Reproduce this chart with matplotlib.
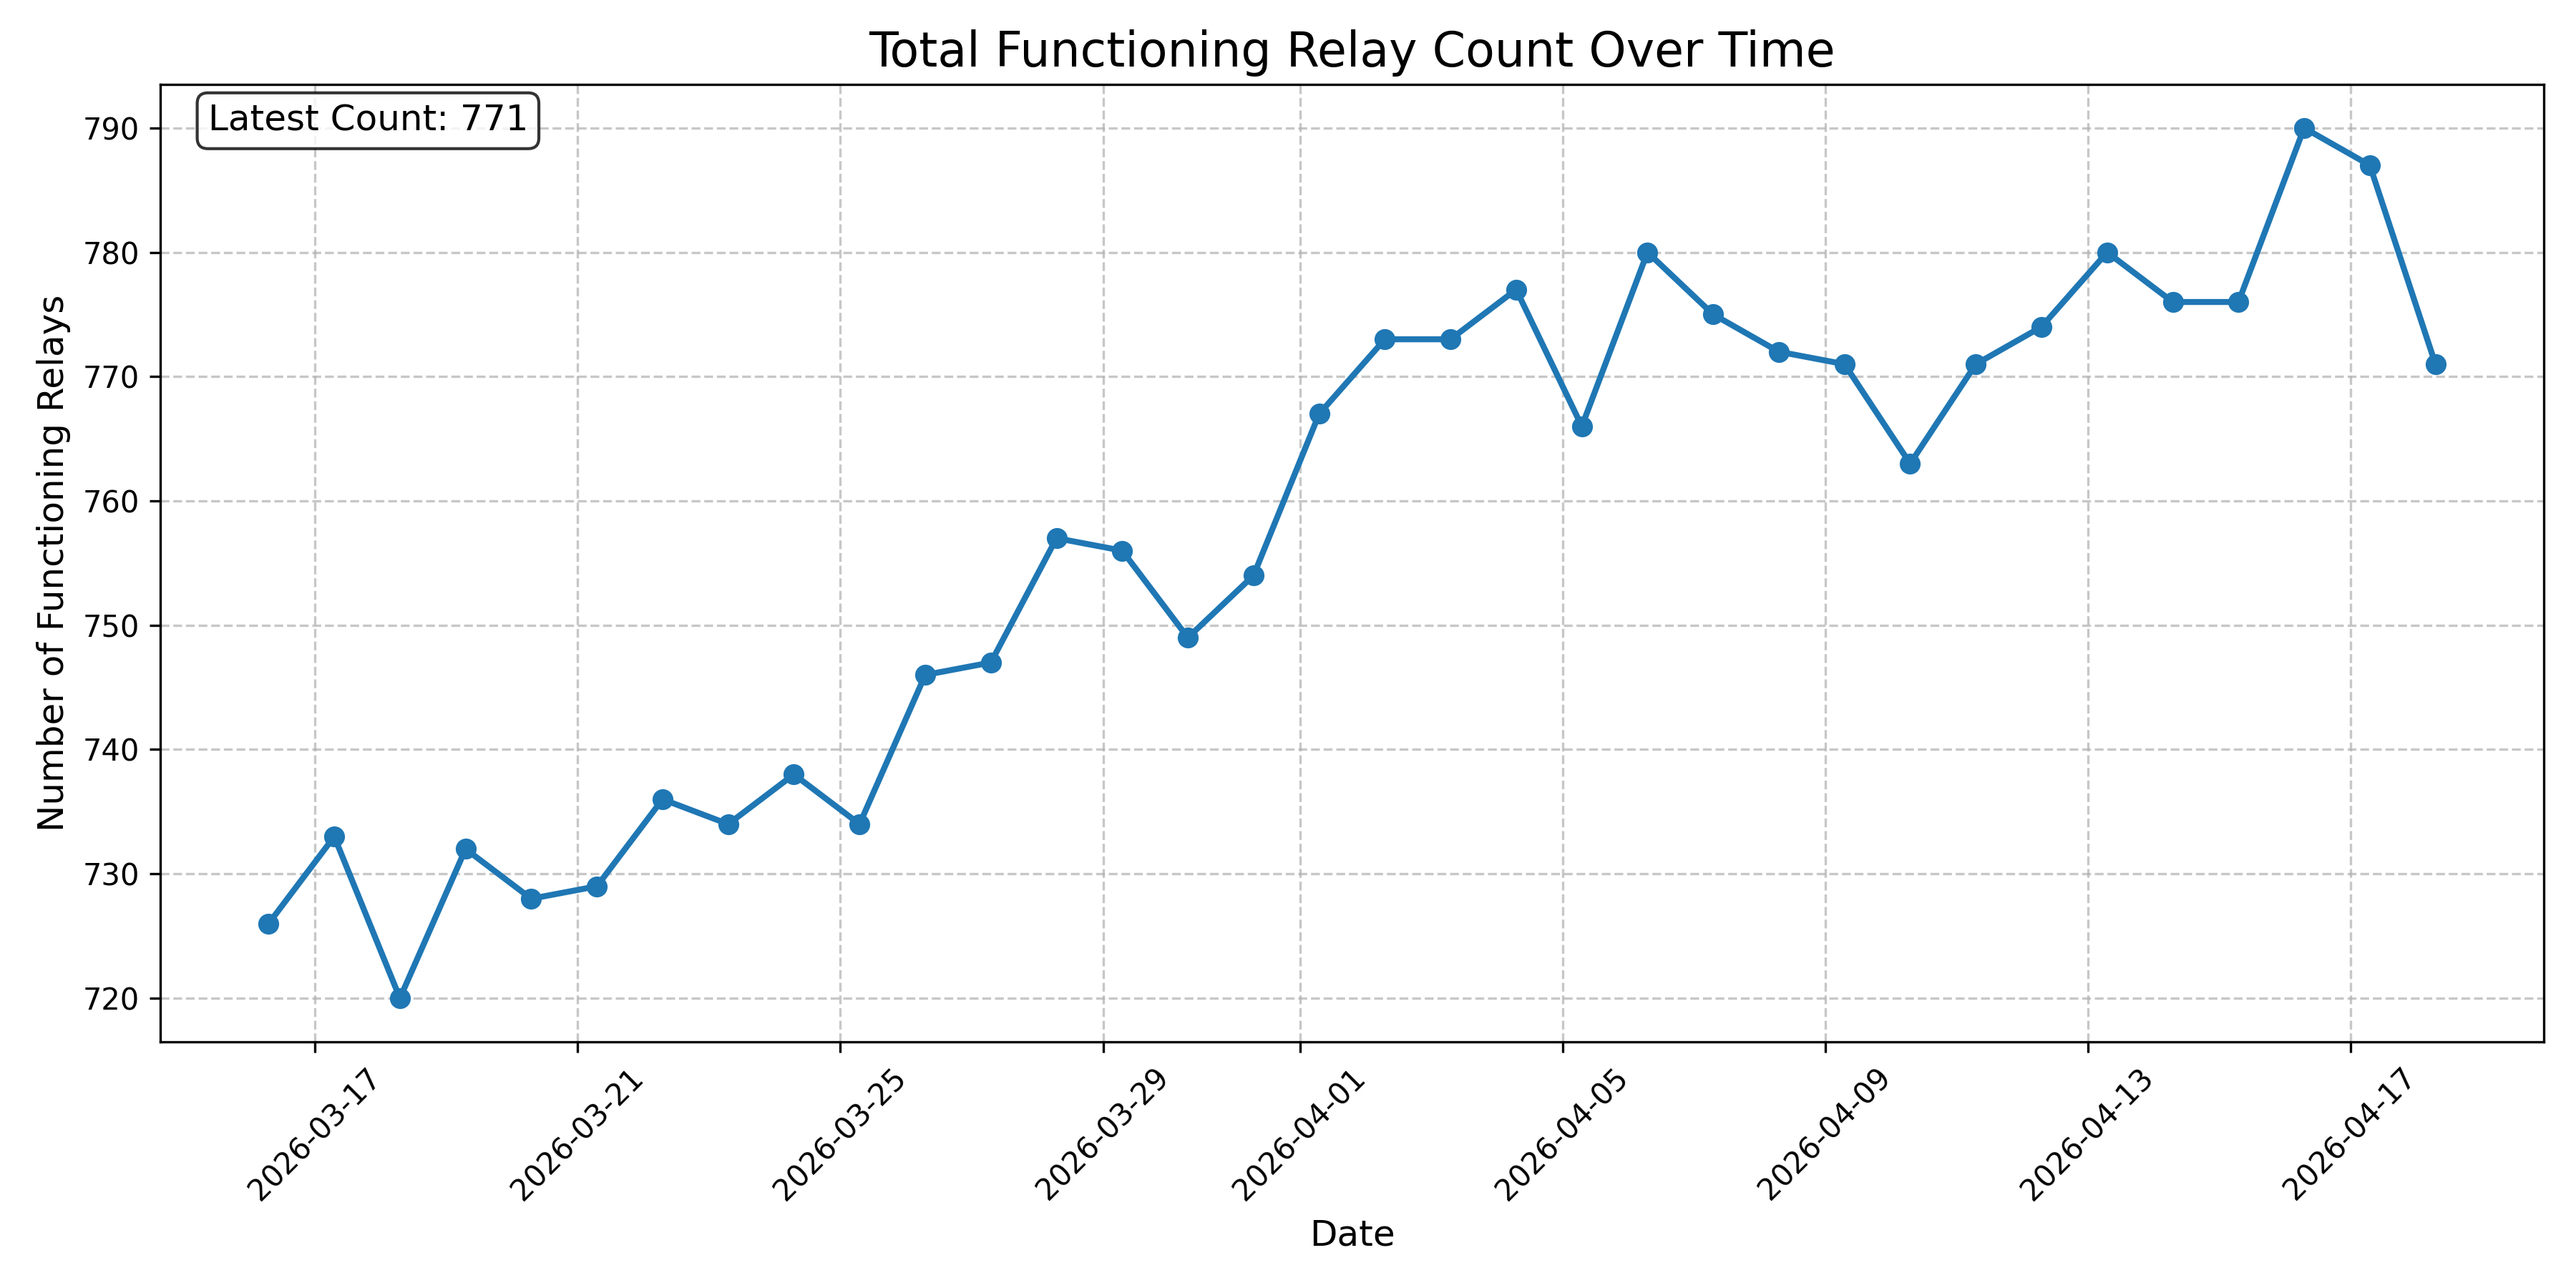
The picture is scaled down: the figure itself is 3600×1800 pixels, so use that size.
import pandas as pd
import matplotlib
matplotlib.use('Agg')
import matplotlib.pyplot as plt
import matplotlib.dates as mdates

# one reading per day, taken around 07:00
dates = pd.date_range('2026-03-16 07:00', '2026-04-18 07:00', freq='D')
relay_counts = [726, 733, 720, 732, 728, 729, 736, 734, 738, 734,
                746, 747, 757, 756, 749, 754, 767, 773, 773, 777,
                766, 780, 775, 772, 771, 763, 771, 774, 780, 776,
                776, 790, 787, 771]

def main():
    fig, ax = plt.subplots(figsize=(12, 6))
    ax.plot(dates, relay_counts, marker='o', linestyle='-', linewidth=2, markersize=6)

    ax.set_title('Total Functioning Relay Count Over Time', fontsize=16)
    ax.set_xlabel('Date', fontsize=12)
    ax.set_ylabel('Number of Functioning Relays', fontsize=12)
    ax.grid(True, linestyle='--', alpha=0.7)

    ax.xaxis.set_major_formatter(mdates.DateFormatter('%Y-%m-%d'))
    plt.xticks(rotation=45)

    # show the most recent value in the corner
    ax.text(0.02, 0.98, f'Latest Count: {relay_counts[-1]}', transform=ax.transAxes,
            fontsize=12, va='top',
            bbox=dict(boxstyle='round', facecolor='white', alpha=0.8))

    plt.tight_layout()
    plt.savefig('out.png', dpi=300)

if __name__ == "__main__":
    main()
